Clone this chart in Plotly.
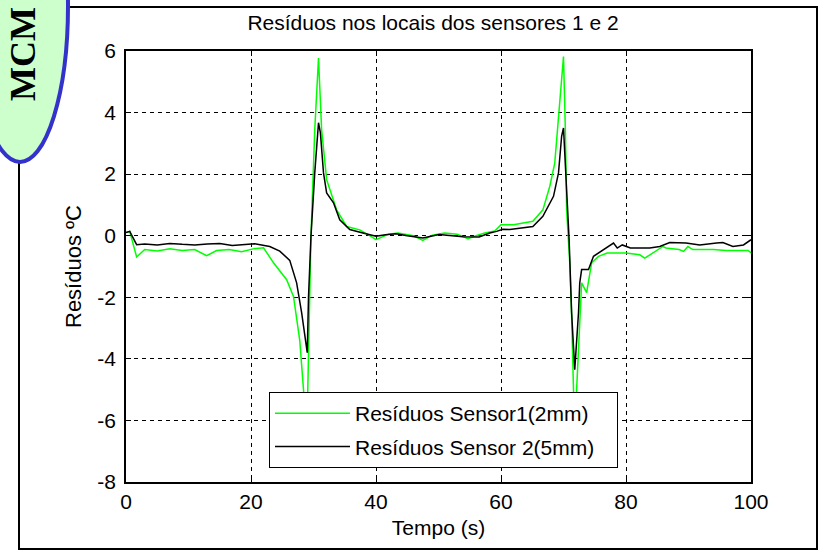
import plotly.graph_objects as go

# ---- data ----
time_sensor1 = [0, 0.6, 1.7, 3, 5, 7, 9, 11, 12.9, 14.5, 16.5, 18.5, 20.5, 22, 23.6, 25.7, 26.8,
                27.8, 28.4, 28.9, 29.6, 30.2, 30.8, 31.3, 32.1, 33.7, 35.3, 37.4, 39, 40, 42, 43.5,
                46, 47.5, 49, 51, 53, 54.7, 56, 57.4, 59, 60, 62, 63.6, 65.1, 66.7, 67.8, 68.6,
                69.2, 69.7, 70, 70.3, 70.5, 71, 71.3, 71.6, 71.85, 72.1, 72.9, 73.7, 74.5, 75.6,
                77, 80, 82.2, 83, 84.3, 85.9, 86.4, 88.5, 89.2, 89.9, 90.7, 94, 96, 99.5, 100]
res_sensor1 = [0.1, 0.14, -0.69, -0.45, -0.5, -0.42, -0.48, -0.45, -0.65, -0.48, -0.45, -0.52,
               -0.42, -0.39, -0.88, -1.43, -1.97, -3.4, -5.0, -6.8, 0.0, 3.44, 5.77, 3.44, 1.82,
               0.84, 0.3, 0.19, 0.0, -0.13, 0.05, 0.09, 0.0, -0.15, 0.02, 0.09, 0.05, -0.1, 0.0,
               0.09, 0.15, 0.36, 0.36, 0.41, 0.47, 0.84, 1.6, 2.36, 3.98, 5.06, 5.82, 3.4, 0.84,
               -0.88, -2.6, -5.0, -6.6, -5.0, -1.53, -1.85, -0.88, -0.67, -0.56, -0.56, -0.62,
               -0.73, -0.57, -0.35, -0.4, -0.45, -0.51, -0.35, -0.45, -0.45, -0.48, -0.48, -0.55]

time_sensor2 = [0, 0.6, 1.7, 3, 5, 7, 9, 11, 13, 15, 17, 19, 20.6, 23, 24.6, 26.2, 27.3, 28.1,
                28.8, 29.0, 29.2, 29.6, 30.2, 30.8, 31.1, 31.6, 32.1, 33.2, 34.2, 35.8, 37.9, 40,
                41.5, 43.2, 45, 47.5, 50.1, 52, 53.9, 56.5, 58.2, 59.3, 60.3, 61.4, 63.5, 65.1,
                66.7, 68.4, 69.2, 69.7, 70, 70.4, 70.6, 70.9, 71.3, 71.8, 72.4, 72.6, 72.9, 74,
                74.8, 76.4, 78, 78.6, 79.4, 80.7, 83.8, 85.4, 87, 89.6, 91.8, 94.5, 95.5, 97.1,
                98.8, 100]
res_sensor2 = [0.1, 0.14, -0.29, -0.27, -0.3, -0.25, -0.28, -0.3, -0.27, -0.25, -0.32, -0.28,
               -0.26, -0.35, -0.5, -0.8, -1.53, -2.5, -3.64, -3.8, -2.0, 0.0, 2.04, 3.67, 3.35,
               2.04, 1.39, 1.07, 0.52, 0.2, 0.09, -0.02, 0.03, 0.06, 0.0, -0.07, 0.04, 0.0, -0.03,
               -0.04, 0.09, 0.14, 0.21, 0.2, 0.25, 0.3, 0.63, 1.28, 2.04, 3.23, 3.5, 1.93, 1.06,
               -0.13, -2.5, -4.35, -2.5, -1.53, -1.1, -1.1, -0.67, -0.45, -0.24, -0.4, -0.3, -0.4,
               -0.4, -0.35, -0.22, -0.24, -0.3, -0.24, -0.22, -0.35, -0.3, -0.13]

x_ticks = [0, 20, 40, 60, 80, 100]
x_tick_labels = ["0", "20", "40", "60", "80", "100"]
y_ticks = [6, 4, 2, 0, -2, -4, -6, -8]
y_tick_labels = ["6", "4", "2", "0", "-2", "-4", "-6", "-8"]

title_text = "Resíduos nos locais dos sensores 1 e 2"
x_title = "Tempo (s)"
y_title = "Resíduos ºC"
legend_names = ["Resíduos Sensor1(2mm)\u00a0\u00a0\u00a0", "Resíduos Sensor 2(5mm)\u00a0\u00a0\u00a0"]
logo_text = "MCM"

FONT = "Liberation Sans, Arial, sans-serif"

# plot area in pixels
L, R, T, B = 126, 751, 51, 482
W, H = 820, 552


def px_x(p):
    return (p - L) / (R - L)


def px_y(p):
    return (B - p) / (B - T)


fig = go.Figure()
fig.add_trace(go.Scatter(x=time_sensor1, y=res_sensor1, mode="lines", name=legend_names[0],
                         line=dict(color="#00ff00", width=1.5), legendgroup="a"))
fig.add_trace(go.Scatter(x=time_sensor2, y=res_sensor2, mode="lines", name=legend_names[1],
                         line=dict(color="#000000", width=1.5), legendgroup="b"))

axis_common = dict(showline=True, linecolor="black", linewidth=1.5, mirror="ticks",
                   ticks="inside", ticklen=5, tickcolor="black", showgrid=True,
                   gridcolor="black", gridwidth=1, griddash="4px,4px", zeroline=False,
                   tickfont=dict(family=FONT, size=21, color="black"))

fig.update_xaxes(range=[0, 100], tickvals=x_ticks, ticktext=x_tick_labels, **axis_common,
                 title=dict(text=x_title, font=dict(family=FONT, size=21, color="black"),
                            standoff=8))
fig.update_yaxes(range=[-8, 6], tickvals=y_ticks, ticktext=y_tick_labels,
                 ticklabelstandoff=4, **axis_common,
                 title=dict(text=y_title, font=dict(family=FONT, size=22, color="black"),
                            standoff=10))

shapes = [
    # outer frame
    dict(type="rect", xref="paper", yref="paper", x0=px_x(19), x1=px_x(817), y0=px_y(549),
         y1=px_y(7), line=dict(color="black", width=2), fillcolor="rgba(0,0,0,0)",
         layer="above"),
    # logo ellipse
    dict(type="circle", xref="paper", yref="paper", x0=px_x(-28), x1=px_x(68), y0=px_y(162),
         y1=px_y(-150), line=dict(color="#3333cc", width=4), fillcolor="#ccffcc",
         layer="above"),
]

annotations = [
    dict(text="<b>" + logo_text + "</b>", xref="paper", yref="paper", x=px_x(23),
         y=px_y(54), textangle=-90, showarrow=False, xanchor="center", yanchor="middle",
         font=dict(family="Liberation Serif, Times New Roman, serif", size=36, color="black")),
]

fig.update_layout(
    width=W, height=H,
    margin=dict(l=L, r=W - R, t=T, b=H - B, pad=0),
    paper_bgcolor="white", plot_bgcolor="white",
    title=dict(text=title_text, x=px_x(433), xref="paper", xanchor="center",
               y=1 - 23 / H, yanchor="middle",
               font=dict(family=FONT, size=21, color="black")),
    showlegend=True,
    legend=dict(x=px_x(269), y=px_y(392), xanchor="left", yanchor="top",
                bgcolor="white", bordercolor="black", borderwidth=1,
                font=dict(family=FONT, size=21, color="black"),
                itemwidth=75, tracegroupgap=3),
    shapes=shapes,
    annotations=annotations,
)

fig.write_html("out.html")
